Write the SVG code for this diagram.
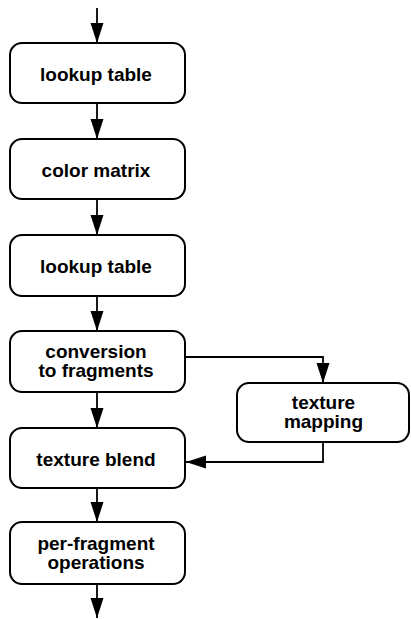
<svg xmlns="http://www.w3.org/2000/svg" width="411" height="619" viewBox="0 0 411 619">
<style>
.box{fill:#fff;stroke:#000;stroke-width:2}
.lbl{font-family:"Liberation Sans",Arial,Helvetica,sans-serif;font-weight:bold;font-size:19px;text-anchor:middle;fill:#000}
.wire{fill:none;stroke:#000;stroke-width:1.8}
</style>
<defs>
<marker id="ah" viewBox="0 0 20 14" refX="20" refY="7" markerWidth="20" markerHeight="14" markerUnits="userSpaceOnUse" orient="auto">
<path d="M0,0.5 L20,7 L0,13.5 Z" fill="#000"/>
</marker>
</defs>
<g id="connectors">
<line class="wire" x1="97" y1="8" x2="97" y2="43" marker-end="url(#ah)"/>
<line class="wire" x1="97" y1="103" x2="97" y2="139" marker-end="url(#ah)"/>
<line class="wire" x1="97" y1="199" x2="97" y2="235" marker-end="url(#ah)"/>
<line class="wire" x1="97" y1="296" x2="97" y2="331" marker-end="url(#ah)"/>
<line class="wire" x1="97" y1="392" x2="97" y2="428" marker-end="url(#ah)"/>
<line class="wire" x1="97" y1="488" x2="97" y2="522" marker-end="url(#ah)"/>
<line class="wire" x1="97" y1="584" x2="97" y2="618" marker-end="url(#ah)"/>
<polyline class="wire" points="185,357 323,357 323,383" marker-end="url(#ah)"/>
<polyline class="wire" points="323,442 323,462 186,462" marker-end="url(#ah)"/>
</g>
<g id="n1"><rect class="box" x="10" y="43" width="175" height="60" rx="12"/><text class="lbl" x="96" y="81">lookup table</text></g>
<g id="n2"><rect class="box" x="10" y="139" width="175" height="60" rx="12"/><text class="lbl" x="96" y="177">color matrix</text></g>
<g id="n3"><rect class="box" x="10" y="235" width="175" height="61" rx="12"/><text class="lbl" x="96" y="273">lookup table</text></g>
<g id="n4"><rect class="box" x="10" y="331" width="175" height="61" rx="12"/><text class="lbl" x="96" y="358">conversion</text><text class="lbl" x="96" y="377">to fragments</text></g>
<g id="n5"><rect class="box" x="237" y="383" width="172" height="59" rx="12"/><text class="lbl" x="323.5" y="409">texture</text><text class="lbl" x="323.5" y="428">mapping</text></g>
<g id="n6"><rect class="box" x="10" y="428" width="175" height="60" rx="12"/><text class="lbl" x="96" y="466">texture blend</text></g>
<g id="n7"><rect class="box" x="10" y="522" width="175" height="62" rx="12"/><text class="lbl" x="96" y="550">per-fragment</text><text class="lbl" x="96" y="569">operations</text></g>
</svg>
